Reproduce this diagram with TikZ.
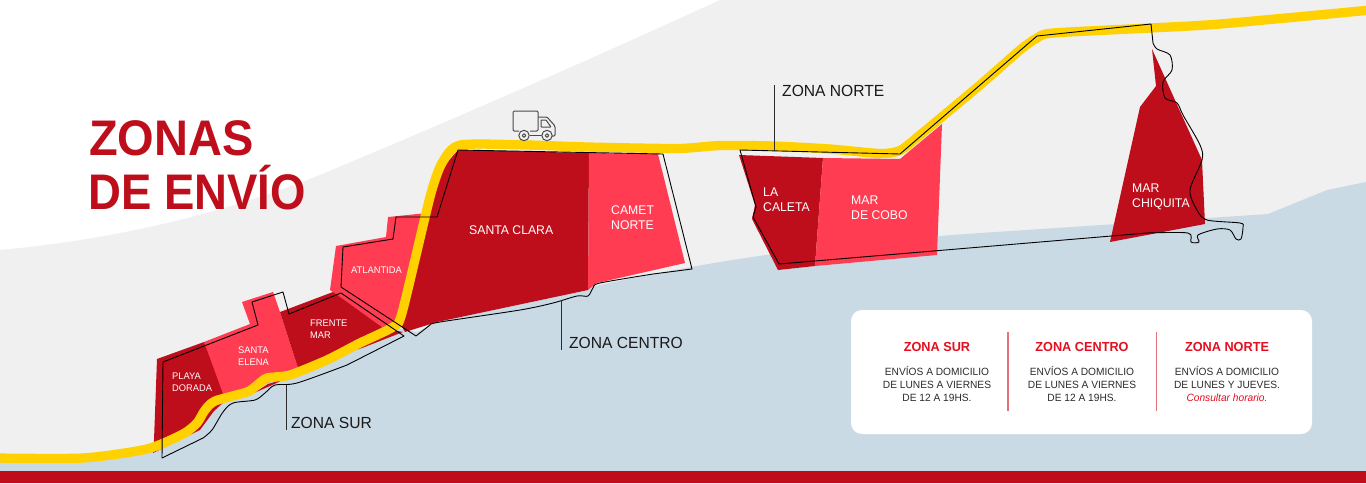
\documentclass[tikz,border=0pt]{standalone}
\usepackage{fontspec}
\setmainfont[FakeStretch=0.97]{Liberation Sans}
\newfontfamily\titleA[FakeStretch=0.94]{Liberation Sans}
\newfontfamily\titleB[FakeStretch=0.91]{Liberation Sans}
\definecolor{bgrey}{HTML}{F0F0F0}
\definecolor{seablue}{HTML}{CADAE5}
\definecolor{darkred}{HTML}{BE0E1B}
\definecolor{lightred}{HTML}{FF3C51}
\definecolor{roadyellow}{HTML}{FFD100}
\definecolor{headred}{HTML}{E30F20}
\definecolor{inkdark}{HTML}{2B2B2B}
\definecolor{divred}{HTML}{E2737D}
\tikzset{
  zlab/.style={anchor=west,text=white,align=left,inner sep=0pt,font=\fontsize{12.6}{15}\selectfont},
  zsmall/.style={zlab,font=\fontsize{9.6}{11.5}\selectfont},
  zoneline/.style={draw=black,line width=0.9pt,line join=round},
  leader/.style={draw=inkdark,line width=0.9pt},
  zonetitle/.style={anchor=west,text=black!90,inner sep=0pt,font=\fontsize{16.1}{18}\selectfont},
  cardhead/.style={text=headred,inner sep=0pt,font=\bfseries\fontsize{13.1}{15}\selectfont},
  cardbody/.style={text=inkdark,inner sep=0pt,align=center,font=\fontsize{10.5}{13}\selectfont},
  truckline/.style={draw=inkdark!85,line width=1pt,line join=round},
  titletext/.style={anchor=base west,text=darkred,inner sep=0pt},
}
\begin{document}
\begin{tikzpicture}[x=1pt,y=-1pt]
\useasboundingbox (0,0) rectangle (1366,483);
\fill[white] (0,0) rectangle (1366,483);
% grey land
\fill[bgrey] (720,0) .. controls (600,55) and (480,108) .. (320,175)
  .. controls (220,215) and (110,240) .. (0,250) -- (0,483) -- (1366,483) -- (1366,0) -- cycle;
% sea
\fill[seablue] (0,460) -- (83,458) -- (147,449) -- (183,434) -- (197,423) -- (205,410) -- (215,401) -- (247,392)
  -- (267,378) -- (290,375) -- (327,360) -- (393,327) -- (417,332) -- (437,322) -- (600,285)
  .. controls (680,268) and (790,246) .. (980,233)
  -- (1268,214) -- (1327,190) -- (1366,182) -- (1366,483) -- (0,483) -- cycle;
\fill[darkred] (0,471) rectangle (1366,483);
% zones
\fill[lightred] (204,342) -- (250,324) -- (242,302) -- (273,292) -- (280,312) -- (298,368) -- (270,382) -- (245,392) -- (222,396) -- cycle;
\fill[darkred] (254,393) -- (268,384) -- (285,379) -- (270,386) -- cycle;
\fill[lightred] (388,217) -- (427,213) -- (402,322) -- (383,330) -- (333,292) -- (330,290) -- (336,246) -- (386,237) -- cycle;
\fill[darkred] (157,359) -- (204,342) -- (223,394) -- (224,402) -- (214,411) -- (200,430) -- (153,453) -- (154,440) -- cycle;
\fill[darkred] (280,312) -- (333,292) -- (383,328) -- (403,332) -- (362,348) -- (298,368) -- cycle;
\fill[darkred] (458,150) -- (589,153) -- (588,290) -- (437,322) -- (405,332) -- (398,320) -- (427,213) -- (445,165) -- cycle;
\fill[lightred] (589,153) -- (658,154) -- (685,263) -- (597,283) -- (588,290) -- cycle;
\fill[darkred] (739,155) -- (823,158) -- (815,266) -- (778,270) -- (752,219) -- (755,205) -- cycle;
\fill[lightred] (823,158) -- (900,159) -- (942,124) -- (937,255) -- (815,266) -- cycle;
\fill[darkred] (1152,49) -- (1202,160) -- (1205,224) -- (1110,242) -- (1140,107) -- (1156,86) -- cycle;
% road
\draw[roadyellow,line width=9.3pt,line join=round] plot[smooth,tension=0.4] coordinates {
  (-5,458) (83,458) (147,449) (183,434) (197,423) (205,410) (215,401) (247,392) (256,386) (267,378) (290,375) (327,360) (360,343)
  (393,327) (402,313) (430,197) (442,163) (460,145) (527,145) (587,147) (678,148.5) (720,145.5) (773,146) (830,149) (880,153.5) (900,150.5) (920,135)
  (980,85) (1020,50) (1037,38) (1053,33) (1150,28) (1220,24) (1371,10)};
% zone outlines
\draw[zoneline] (162,458) -- (163,362) -- (258,325) -- (252,302) -- (283,292) -- (289,314) -- (341,293) -- (404,336)
  -- plot[smooth,tension=0.5] coordinates {(347,365) (297,383) (275,385) (265,393) (255,400) (233,403) (223,412) (212,430) (203,438)} -- cycle;
\draw[zoneline] (458,150) -- (663,154) -- (692,269)
  -- plot[smooth,tension=0.5] coordinates {(653,274) (600,283) (593,288) (588,296) (577,296) (553,303) (520,310) (440,322) (430,325)}
  -- (416,336) -- (341,287) -- (343,247) -- (393,239) -- (396,217) -- (437,217) -- cycle;
\draw[zoneline] (740,150) -- (900,154) -- (1037,36) -- (1151,24)
  -- plot[smooth,tension=0.5] coordinates {(1153,43) (1157,49) (1170,55) (1172,70) (1163,82) (1165,98) (1177,103) (1183,115) (1200,145) (1202,160) (1190,190) (1197,210) (1207,220) (1240,223) (1243,227) (1241,239) (1236,239) (1230,230) (1217,229) (1198,235) (1199,242) (1191,242) (1188,233) (1147,233)}
  -- (779,264) -- (753,217) -- (756,207) -- cycle;
% title
\node[titletext,font=\titleA\bfseries\fontsize{50}{52}\selectfont] (title1) at (89,155) {ZONAS};
\node[titletext,font=\titleB\bfseries\fontsize{50}{52}\selectfont] (title2) at (88,209) {DE ENVÍO};
% zone names
\node[zsmall] (playa) at (172,382) {PLAYA\\DORADA};
\node[zsmall] (selena) at (238,356) {SANTA\\ELENA};
\node[zsmall] (frente) at (310,329) {FRENTE\\MAR};
\node[zsmall] (atl) at (351,270) {ATLANTIDA};
\node[zlab] (sclara) at (469,230) {SANTA CLARA};
\node[zlab] (camet) at (611,218) {CAMET\\NORTE};
\node[zlab] (caleta) at (763,200) {LA\\CALETA};
\node[zlab] (cobo) at (851,208) {MAR\\DE COBO};
\node[zlab] (chiq) at (1132,197) {MAR\\CHIQUITA};
% leaders
\node[zonetitle] (lsur) at (291,423) {ZONA SUR};
\node[zonetitle] (lcen) at (569,343) {ZONA CENTRO};
\node[zonetitle] (lnor) at (782,91) {ZONA NORTE};
\coordinate (sa) at (286.5,385); \coordinate (sb) at (286.5,430);
\coordinate (ca) at (561,300); \coordinate (cb) at (561,350);
\coordinate (na) at (774,85); \coordinate (nb) at (774,151);
\draw[leader] (sa) -- (sb);
\draw[leader] (ca) -- (cb);
\draw[leader] (na) -- (nb);
% truck
\draw[truckline,rounded corners=1.2pt] (519,131) -- (513,131) -- (513,111) -- (538,111) -- (538,131) -- (530,131);
\draw[truckline,rounded corners=1.2pt] (538,117) -- (547,117) -- (555,126) -- (555,136) -- (552,136);
\draw[truckline] (530,135.5) -- (542,135.5);
\draw[truckline,rounded corners=0.6pt] (541,120) -- (546,120) -- (551,127) -- (541,127) -- cycle;
\draw[truckline,fill=bgrey] (524,135.5) circle (5.2);
\draw[truckline] (524,135.5) circle (1.8);
\draw[truckline,fill=bgrey] (547,135.5) circle (5.2);
\draw[truckline] (547,135.5) circle (1.8);
% card
\fill[white,rounded corners=11pt] (851,310) rectangle (1312,434);
\coordinate (d1a) at (1008,332); \coordinate (d1b) at (1008,411);
\coordinate (d2a) at (1156.5,332); \coordinate (d2b) at (1156.5,411);
\draw[divred,line width=1.1pt] (d1a) -- (d1b);
\draw[divred,line width=1.1pt] (d2a) -- (d2b);
\node[cardhead] (h1) at (937,347) {ZONA SUR};
\node[cardhead] (h2) at (1082,347) {ZONA CENTRO};
\node[cardhead] (h3) at (1227,347) {ZONA NORTE};
\node[cardbody] (b1) at (937,384) {ENVÍOS A DOMICILIO\\DE LUNES A VIERNES\\DE 12 A 19HS.};
\node[cardbody] (b2) at (1082,384) {ENVÍOS A DOMICILIO\\DE LUNES A VIERNES\\DE 12 A 19HS.};
\node[cardbody] (b3) at (1227,384) {ENVÍOS A DOMICILIO\\DE LUNES Y JUEVES.\\\textcolor{headred}{\itshape Consultar horario.}};
\end{tikzpicture}
\end{document}
